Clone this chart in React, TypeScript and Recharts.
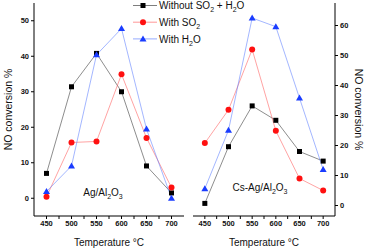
import React from 'react';
import { LineChart, Line, XAxis, YAxis, Legend } from 'recharts';

// Temperatures (°C) shared by both catalysts
const temps = [450, 500, 550, 600, 650, 700];

// Ag/Al2O3 — NO conversion %
const agWithout = [7, 31.4, 40.8, 30, 9.1, 1.5];
const agSO2 = [0.4, 15.7, 16, 34.9, 17, 3];
const agH2O = [1.9, 9.1, 40.4, 47.8, 19.5, 0];

// Cs-Ag/Al2O3 — NO conversion %
const csWithout = [0.7, 19.6, 33.2, 28.4, 18, 14.8];
const csSO2 = [20.8, 31.9, 52, 24.9, 9, 5];
const csH2O = [5.6, 25.1, 62.5, 59.6, 35.8, 12];

const xTicks = [450, 475, 500, 525, 550, 575, 600, 625, 650, 675, 700];
const xLabels = ['450', '', '500', '', '550', '', '600', '', '650', '', '700'];
const leftTicks = [0, 10, 20, 30, 40, 50];
const rightTicks = [0, 10, 20, 30, 40, 50, 60];

const FONT = '"Liberation Sans", Arial, sans-serif';

const series = [
    { key: 'without', name: 'Without SO_2 + H_2O', marker: '#000000', line: '#333333', shape: 'square' },
    { key: 'so2', name: 'With SO_2', marker: '#ff1010', line: '#ff5a5a', shape: 'circle' },
    { key: 'h2o', name: 'With H_2O', marker: '#1a3cff', line: '#5a7cff', shape: 'triangle' },
];

function buildData(without: number[], so2: number[], h2o: number[]) {
    return temps.map((t, i) => ({ t, without: without[i], so2: so2[i], h2o: h2o[i] }));
}

const agData = buildData(agWithout, agSO2, agH2O);
const csData = buildData(csWithout, csSO2, csH2O);

// "SO_2" -> SO with subscript 2
function Chem({ text }: { text: string }) {
    const parts = text.split(/_(\d)/);
    return (
        <>
            {parts.map((p, i) =>
                i % 2 === 1 ? (
                    <tspan key={i} fontSize="0.7em" dy={3}>{p}</tspan>
                ) : (
                    <tspan key={i} dy={i > 0 ? -3 : 0}>{p}</tspan>
                ),
            )}
        </>
    );
}

function Marker({ shape, x, y, color }: any) {
    if (shape === 'square') return <rect x={x - 2.5} y={y - 2.5} width={5} height={5} fill={color} />;
    if (shape === 'circle') return <circle cx={x} cy={y} r={3} fill={color} />;
    return <path d={`M${x},${y - 3.5}L${x + 3.5},${y + 2.5}L${x - 3.5},${y + 2.5}Z`} fill={color} />;
}

function makeDot(shape: string, color: string) {
    return (props: any) => {
        const { cx, cy, index } = props;
        if (cx == null || cy == null) return <g key={index} />;
        return (
            <g key={index}>
                <Marker shape={shape} x={cx} y={cy} color={color} />
            </g>
        );
    };
}

function LegendBox() {
    return (
        <svg width={140} height={48} style={{ display: 'block' }}>
            {series.map((s, i) => {
                const y = 5.5 + i * 16.7;
                return (
                    <g key={s.key}>
                        <line x1={1} x2={25} y1={y} y2={y} stroke={s.line} strokeWidth={0.9} opacity={0.7} />
                        <Marker shape={s.shape} x={11} y={y} color={s.marker} />
                        <text x={27} y={y + 3.6} fontSize={10} fontFamily={FONT} fill="#111">
                            <Chem text={s.name} />
                        </text>
                    </g>
                );
            })}
        </svg>
    );
}

const tickStyle = { fontSize: 7.5, fontWeight: 'bold', fill: '#111', fontFamily: FONT } as const;
const titleStyle = { fontSize: 10, fontWeight: 'normal', fontFamily: FONT, fill: '#111' } as const;

function Lines() {
    return series.map((s) => (
        <Line
            key={s.key}
            dataKey={s.key}
            name={s.name}
            stroke={s.line}
            strokeWidth={0.8}
            strokeOpacity={0.7}
            dot={makeDot(s.shape, s.marker)}
            activeDot={false}
            isAnimationActive={false}
        />
    ));
}

function PanelLabel({ x, y, text }: { x: number; y: number; text: string }) {
    return (
        <svg style={{ position: 'absolute', left: 0, top: 0 }} width={367} height={249}>
            <text x={x} y={y} textAnchor="middle" fontSize={10} fontFamily={FONT} fill="#111">
                <Chem text={text} />
            </text>
        </svg>
    );
}

export default function App() {
    return (
        <div style={{ position: 'relative', width: 367, height: 249, background: '#fff' }}>
            <style>{'body{margin:0}'}</style>
            <div style={{ position: 'absolute', left: 0, top: 0 }}>
                <LineChart width={190} height={249} data={agData} margin={{ top: 3, right: 6, bottom: 0, left: 0 }}>
                    <XAxis
                        dataKey="t"
                        type="number"
                        domain={[425, 725]}
                        ticks={xTicks}
                        tickFormatter={(v) => xLabels[xTicks.indexOf(v)] ?? ''}
                        interval={0}
                        tickSize={3}
                        height={33}
                        tick={tickStyle}
                        stroke="#000"
                        label={{ value: 'Temperature °C', position: 'insideBottom', offset: 3, ...titleStyle }}
                    />
                    <YAxis
                        type="number"
                        domain={[-5, 55]}
                        ticks={leftTicks}
                        interval={0}
                        width={34}
                        tickSize={3}
                        tick={tickStyle}
                        stroke="#000"
                        label={{ value: 'NO conversion %', angle: -90, position: 'insideLeft', offset: 8, ...titleStyle, fontSize: 10.5, style: { textAnchor: 'middle' } }}
                    />
                    <Legend
                        layout="vertical"
                        align="center"
                        verticalAlign="middle"
                        content={() => <LegendBox />}
                        wrapperStyle={{ position: 'absolute', left: 132, top: 0, width: 140, height: 48 }}
                    />
                    {Lines()}
                </LineChart>
            </div>
            <div style={{ position: 'absolute', left: 190, top: 0 }}>
                <LineChart width={177} height={249} data={csData} margin={{ top: 3, right: 0, bottom: 0, left: 3 }}>
                    <XAxis
                        dataKey="t"
                        type="number"
                        domain={[425, 725]}
                        ticks={xTicks}
                        tickFormatter={(v) => xLabels[xTicks.indexOf(v)] ?? ''}
                        interval={0}
                        tickSize={3}
                        height={33}
                        tick={tickStyle}
                        stroke="#000"
                        label={{ value: 'Temperature °C', position: 'insideBottom', offset: 3, ...titleStyle }}
                    />
                    <YAxis
                        orientation="right"
                        type="number"
                        domain={[-3.5, 67.5]}
                        ticks={rightTicks}
                        interval={0}
                        width={32}
                        tickSize={3}
                        tick={tickStyle}
                        stroke="#000"
                        label={{ value: 'NO conversion %', angle: 90, position: 'insideRight', offset: 8, ...titleStyle, fontSize: 10.5, style: { textAnchor: 'middle' } }}
                    />
                    {Lines()}
                </LineChart>
            </div>
            <PanelLabel x={103} y={196} text="Ag/Al_2O_3" />
            <PanelLabel x={260} y={191} text="Cs-Ag/Al_2O_3" />
        </div>
    );
}
